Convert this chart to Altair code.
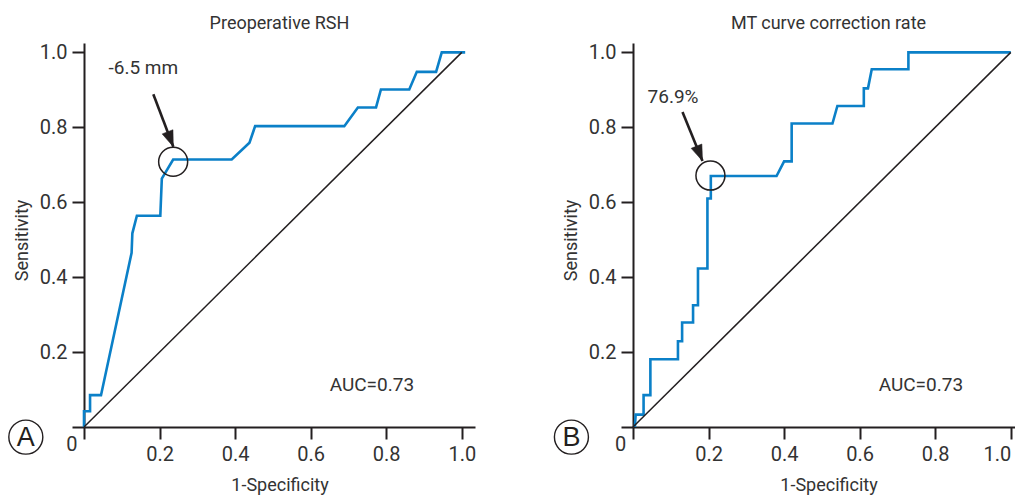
import altair as alt
import pandas as pd

FONT = "Roboto"
TXT = "#333333"
INK = "#231f20"
BLUE = "#0b80c8"

# ---- data ----
titles = ["Preoperative RSH", "MT curve correction rate"]
panel_letters = ["A", "B"]
cutoff_labels = ["-6.5 mm", "76.9%"]
auc_labels = ["AUC=0.73", "AUC=0.73"]
tick_values = [0.0, 0.2, 0.4, 0.6, 0.8, 1.0]

rsh_fpr = [0.0, 0.0, 0.016, 0.016, 0.045, 0.126, 0.128, 0.140, 0.202, 0.206, 0.236, 0.391,
           0.438, 0.453, 0.689, 0.725, 0.773, 0.786, 0.861, 0.881, 0.932, 0.947, 1.009]
rsh_tpr = [0.0, 0.042, 0.042, 0.085, 0.085, 0.465, 0.517, 0.564, 0.564, 0.663, 0.714, 0.714,
           0.759, 0.803, 0.803, 0.853, 0.853, 0.901, 0.901, 0.948, 0.948, 1.0, 1.0]

mt_fpr = [0.005, 0.007, 0.028, 0.028, 0.046, 0.046, 0.119, 0.119, 0.130, 0.130,
          0.159, 0.159, 0.172, 0.172, 0.197, 0.197, 0.206, 0.206, 0.380, 0.400,
          0.420, 0.420, 0.528, 0.541, 0.611, 0.611, 0.622, 0.632, 0.729, 0.729, 1.0]
mt_tpr = [0.0, 0.033, 0.033, 0.085, 0.085, 0.181, 0.181, 0.229, 0.229, 0.279,
          0.279, 0.325, 0.325, 0.423, 0.423, 0.610, 0.610, 0.670, 0.670, 0.709,
          0.709, 0.810, 0.810, 0.857, 0.857, 0.904, 0.904, 0.955, 0.955, 1.0, 1.0]

# cutoff points (circled) in data coordinates
cutoff_fpr = [0.236, 0.205]
cutoff_tpr = [0.708, 0.671]

# ---- annotation placement (data coordinates) ----
arrow_start = [(0.1835, 0.888), (0.131, 0.841)]
arrow_tip = [(0.2364, 0.748), (0.184, 0.710)]
arrow_angle = [339, 338]
label_pos = [(0.157, 0.958), (0.106, 0.882)]
auc_pos = [(0.762, 0.111), (0.762, 0.111)]
letter_pos = [(-0.154, -0.027), (-0.163, -0.027)]
zero_pos = [(-0.032, -0.047), (-0.033, -0.047)]

W, H = 391, 384
XS = alt.Scale(domain=[0, 1.035], nice=False, zero=False)
YS = alt.Scale(domain=[0, 1.025], nice=False, zero=False)
LBL = "datum.value == 0 ? '' : format(datum.value, '.1f')"

# right panel runs into the page edge: keep its last tick label inside
x_label_align = ["center", "datum.value == 1 ? 'right' : 'center'"]

YAX = alt.Axis(values=tick_values, labelExpr=LBL, title="Sensitivity",
               titleX=-57, titleY=197, titleBaseline="alphabetic", titleAngle=270)


def panel(i, fpr, tpr):
    if i == 0:
        xax = alt.Axis(values=tick_values, labelExpr=LBL, title="1-Specificity",
                       titleY=63, titleBaseline="alphabetic")
    else:
        xax = alt.Axis(values=tick_values, labelExpr=LBL, title="1-Specificity",
                       titleY=63, titleBaseline="alphabetic",
                       labelAlign=alt.ExprRef(expr=x_label_align[1]))

    def X(f):
        return alt.X(f, type="quantitative", scale=XS, axis=xax)

    def Y(f):
        return alt.Y(f, type="quantitative", scale=YS, axis=YAX)

    curve = pd.DataFrame({"fpr": fpr, "tpr": tpr, "k": list(range(len(fpr)))})
    diag = pd.DataFrame({"fpr": [0.0, 1.0], "tpr": [0.0, 1.0], "k": [0, 1]})

    line = alt.Chart(curve).mark_line(color=BLUE, strokeWidth=2.6, strokeJoin="miter").encode(
        x=X("fpr"), y=Y("tpr"), order="k:Q")
    diag_l = alt.Chart(diag).mark_line(color=INK, strokeWidth=1.5).encode(
        x=X("fpr"), y=Y("tpr"), order="k:Q")
    ann = pd.DataFrame({
        "cx": [cutoff_fpr[i]], "cy": [cutoff_tpr[i]],
        "ax": [arrow_start[i][0]], "ay": [arrow_start[i][1]],
        "tx": [arrow_tip[i][0]], "ty": [arrow_tip[i][1]],
        "lx": [label_pos[i][0]], "ly": [label_pos[i][1]], "lab": [cutoff_labels[i]],
        "ux": [auc_pos[i][0]], "uy": [auc_pos[i][1]], "auc": [auc_labels[i]],
        "px": [letter_pos[i][0]], "py": [letter_pos[i][1]], "let": [panel_letters[i]],
        "zx": [zero_pos[i][0]], "zy": [zero_pos[i][1]], "zero": ["0"],
    })
    base = alt.Chart(ann)

    circ = base.mark_point(shape="circle", size=841, filled=False, stroke=INK,
                           strokeWidth=1.5, opacity=1).encode(x=X("cx"), y=Y("cy"))
    shaft = base.mark_rule(color=INK, strokeWidth=2.6).encode(
        x=X("ax"), y=Y("ay"), x2="tx", y2="ty")
    head = base.mark_point(shape="M0,0 L-0.36,-1 L0.36,-1 Z", size=1024, filled=True,
                           fill=INK, stroke=INK, strokeWidth=0.5, opacity=1,
                           angle=arrow_angle[i]).encode(x=X("tx"), y=Y("ty"))
    lab = base.mark_text(font=FONT, fontSize=19, color=TXT, align="center",
                         baseline="middle").encode(x=X("lx"), y=Y("ly"), text="lab:N")
    auc = base.mark_text(font=FONT, fontSize=19, color=TXT, align="center",
                         baseline="middle").encode(x=X("ux"), y=Y("uy"), text="auc:N")
    lcirc = base.mark_point(shape="circle", size=1156, filled=False, stroke=INK,
                            strokeWidth=1.4, opacity=1).encode(x=X("px"), y=Y("py"))
    ltxt = base.mark_text(font="Liberation Sans", fontSize=27, color=INK,
                          align="center", baseline="middle", dy=1).encode(
        x=X("px"), y=Y("py"), text="let:N")
    zero = base.mark_text(font=FONT, fontSize=20, color=TXT, align="center",
                          baseline="middle").encode(x=X("zx"), y=Y("zy"), text="zero:N")

    return alt.layer(line, diag_l, circ, shaft, head, lab, auc, lcirc, ltxt, zero).properties(
        width=W, height=H,
        title=alt.TitleParams(titles[i], font=FONT, fontSize=18, fontWeight="normal",
                              color=TXT, anchor="middle", baseline="alphabetic", offset=-5),
    )


chart = alt.hconcat(
    panel(0, rsh_fpr, rsh_tpr),
    panel(1, mt_fpr, mt_tpr),
    spacing=158,
    bounds="flush",
    autosize=alt.AutoSizeParams(type="none"),
    padding={"left": 76, "top": 35, "right": 931, "bottom": 448},
).configure_view(stroke=None).configure_axis(
    grid=False,
    domainColor=INK, domainWidth=2,
    tickColor=INK, tickWidth=2, tickSize=12,
    labelFont=FONT, labelFontSize=20, labelColor=TXT, labelPadding=5,
    titleFont=FONT, titleFontSize=18, titleColor=TXT, titleFontWeight="normal",
    labelFlush=False, labelOverlap=False,
)

chart.save("out.html", embed_options={"renderer": "svg", "actions": False})
